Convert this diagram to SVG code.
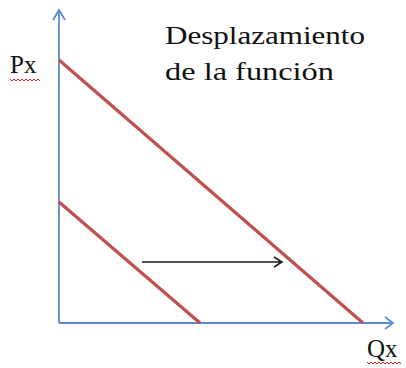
<svg xmlns="http://www.w3.org/2000/svg" width="406" height="368" viewBox="0 0 406 368">
<defs>
<style>
.axis{stroke:#5B8BD0;stroke-width:1.8;fill:none}
.curve{stroke:#C0504D;stroke-width:3.2;fill:none}
.shift{stroke:#1a1a1a;stroke-width:1.5;fill:none}
.squig{stroke:#E02020;stroke-width:1;fill:none}
.lbl{font-family:'Liberation Serif','Times New Roman','DejaVu Serif',serif;fill:#111111}
</style>
</defs>
<rect width="406" height="368" fill="#ffffff"/>
<g id="connectors">
<path class="axis" d="M59,323 V10 M53,20 L59,10 L65,20"/>
<path class="axis" d="M59,323 H393 M385,317 L393,323 L385,329"/>
<path class="shift" d="M142,262 H282 M274,257 L282,262 L274,267"/>
</g>
<g id="demand1"><line class="curve" x1="59" y1="202" x2="200" y2="323"/></g>
<g id="demand2"><line class="curve" x1="59" y1="60" x2="363" y2="323"/></g>
<g id="label-px">
<text class="lbl" x="10" y="73" font-size="25">Px</text>
<path class="squig" d="M10,79 l2,2 l2,-2 l2,2 l2,-2 l2,2 l2,-2 l2,2 l2,-2 l2,2 l2,-2 l2,2 l2,-2 l2,2 l2,-2 l2,2"/>
</g>
<g id="label-qx">
<text class="lbl" x="367" y="357" font-size="25">Qx</text>
<path class="squig" d="M367,362 l2,2 l2,-2 l2,2 l2,-2 l2,2 l2,-2 l2,2 l2,-2 l2,2 l2,-2 l2,2 l2,-2 l2,2 l2,-2 l2,2 l2,-2 l2,2"/>
</g>
<g id="title">
<text class="lbl" font-size="26"><tspan x="165" y="44" textLength="200" lengthAdjust="spacingAndGlyphs">Desplazamiento</tspan><tspan x="165" y="80" textLength="169" lengthAdjust="spacingAndGlyphs">de la función</tspan></text>
</g>
</svg>
